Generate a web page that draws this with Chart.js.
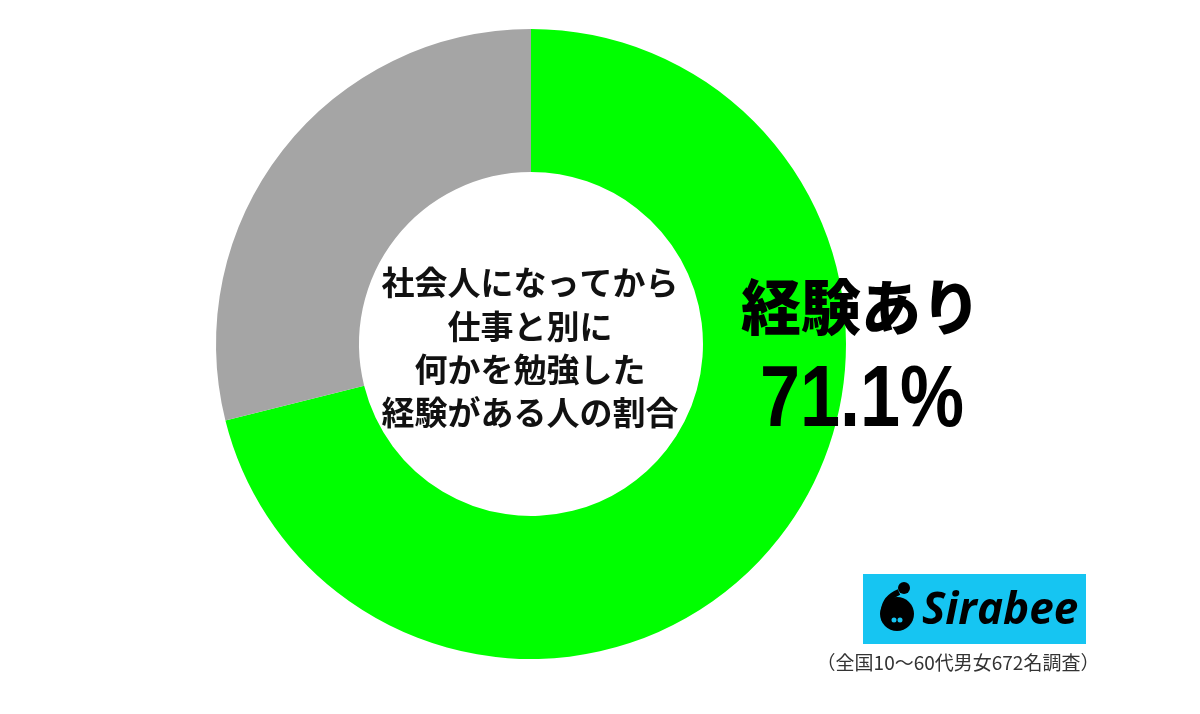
<!DOCTYPE html>
<html>
<head>
<meta charset="utf-8">
<script src="https://cdn.jsdelivr.net/npm/chart.js@4"></script>
<style>
  html, body { margin: 0; padding: 0; background: #fff; }
  #wrap { width: 1200px; height: 714px; position: relative; }
</style>
</head>
<body>
<div id="wrap"><canvas id="chart" width="1200" height="714"></canvas></div>
<script>
const labels = ["経験あり", "経験なし"];
const values = [71.1, 28.9];
const colors = ["#00ff00", "#a5a5a5"];
const centerLines = ["社会人になってから", "仕事と別に", "何かを勉強した", "経験がある人の割合"];
const calloutLabel = "経験あり";
const calloutValue = "71.1%";
const footnote = "（全国10～60代男女672名調査）";

const JP = '"Noto Sans CJK JP", "Noto Sans", sans-serif';

// texts, logo and note drawn over the doughnut
const overlay = {
    id: "overlay",
    afterDraw(chart) {
        const ctx = chart.ctx;
        const arc = chart.getDatasetMeta(0).data[0];
        const cx = arc.x, cy = arc.y;
        ctx.save();
        ctx.textAlign = "center";
        ctx.textBaseline = "middle";
        ctx.fillStyle = "#111";

        // center title
        ctx.font = "bold 33px " + JP;
        const ys = [-62, -18, 25, 68];
        centerLines.forEach((t, i) => ctx.fillText(t, cx - 1, cy + ys[i]));

        // callout
        ctx.fillStyle = "#000";
        ctx.font = "900 60px " + JP;
        ctx.fillText(calloutLabel, 861, 307);

        ctx.save();
        ctx.translate(862, 402);
        ctx.scale(1, 1.22);
        ctx.font = "bold 72px Arial, 'Liberation Sans', sans-serif";
        ctx.fillText(calloutValue, 0, 0);
        ctx.restore();

        // Sirabee logo
        ctx.fillStyle = "#16c5f2";
        ctx.fillRect(863, 574, 223, 70);
        ctx.fillStyle = "#000";
        ctx.beginPath();
        ctx.arc(897, 614, 17, 0, Math.PI * 2);
        ctx.fill();
        ctx.beginPath();
        ctx.arc(904, 588, 6, 0, Math.PI * 2);
        ctx.fill();
        ctx.lineWidth = 6;
        ctx.strokeStyle = "#000";
        ctx.beginPath();
        ctx.moveTo(899, 592);
        ctx.quadraticCurveTo(885, 598, 884, 610);
        ctx.stroke();
        ctx.fillStyle = "#16c5f2";
        ctx.beginPath();
        ctx.arc(894, 620, 2.5, 0, Math.PI * 2);
        ctx.arc(900, 620, 2.5, 0, Math.PI * 2);
        ctx.fill();
        ctx.fillStyle = "#000";
        ctx.textAlign = "left";
        ctx.font = "italic bold 44px 'Open Sans', Roboto, sans-serif";
        ctx.fillText("Sirabee", 922, 611);

        // footnote
        ctx.fillStyle = "#333";
        ctx.textAlign = "center";
        ctx.font = "19px " + JP;
        ctx.fillText(footnote, 958, 663);
        ctx.restore();
    }
};

new Chart(document.getElementById("chart"), {
    type: "doughnut",
    data: {
        labels: labels,
        datasets: [{
            data: values,
            backgroundColor: colors,
            borderWidth: 0
        }]
    },
    options: {
        responsive: false,
        animation: false,
        cutout: "54.6%",
        layout: { padding: { top: 29, bottom: 55, left: 216, right: 354 } },
        plugins: {
            legend: { display: false },
            tooltip: { enabled: false }
        }
    },
    plugins: [overlay]
});
</script>
</body>
</html>
